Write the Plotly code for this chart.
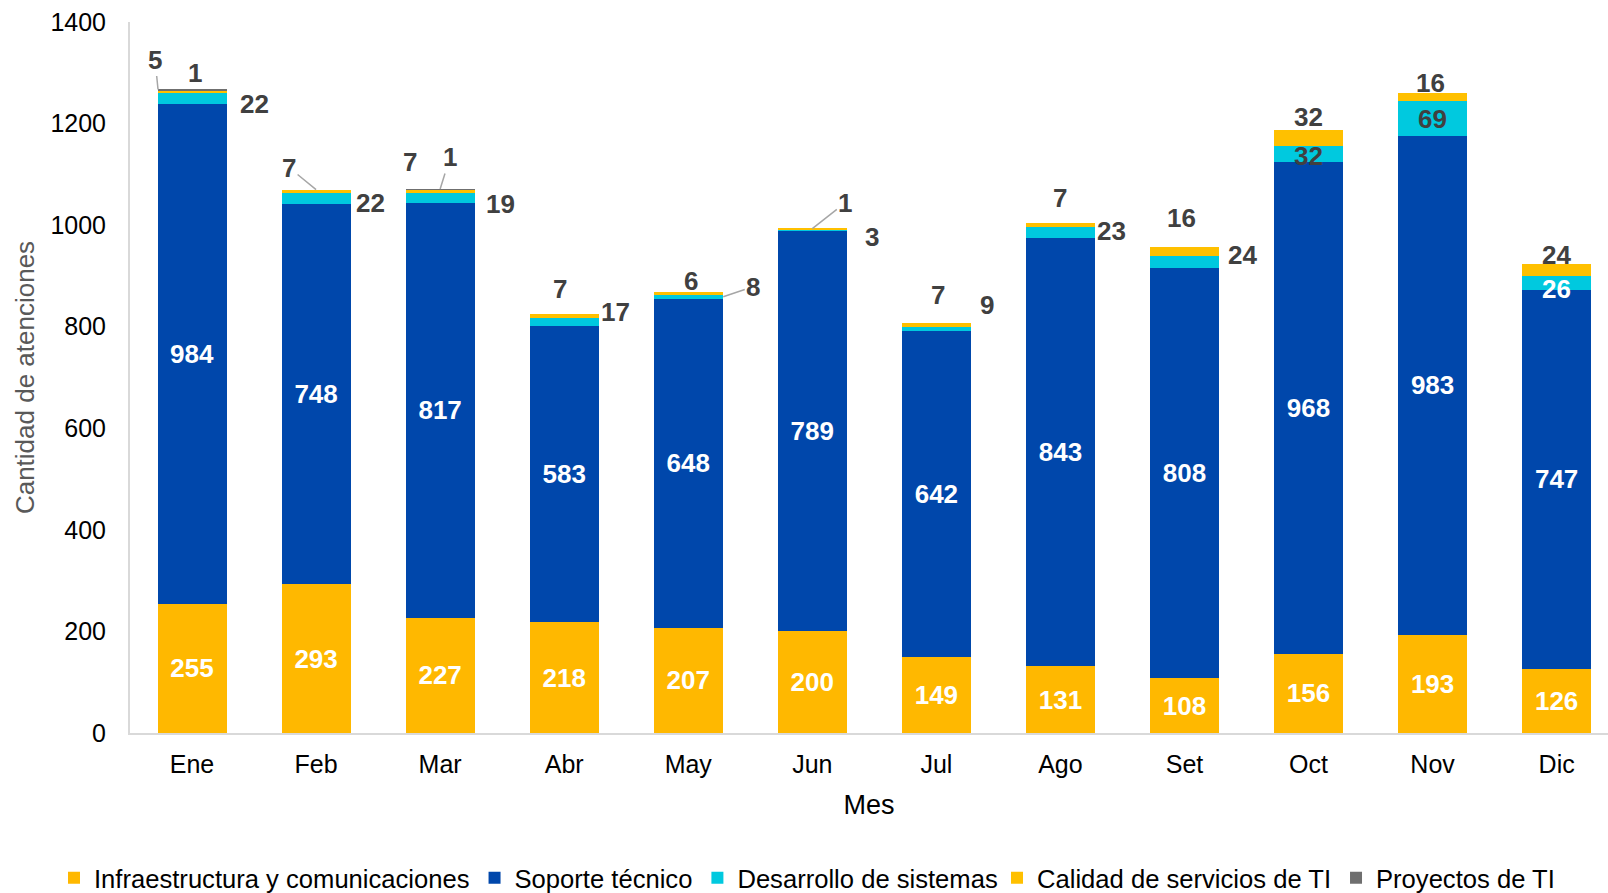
import plotly.graph_objects as go

# ---------------- data ----------------
meses = ["Ene", "Feb", "Mar", "Abr", "May", "Jun", "Jul", "Ago", "Set", "Oct", "Nov", "Dic"]
infraestructura = [255, 293, 227, 218, 207, 200, 149, 131, 108, 156, 193, 126]
soporte = [984, 748, 817, 583, 648, 789, 642, 843, 808, 968, 983, 747]
desarrollo = [22, 22, 19, 17, 8, 3, 9, 23, 24, 32, 69, 26]
calidad = [5, 7, 7, 7, 6, 1, 7, 7, 16, 32, 16, 24]
proyectos = [1, 0, 1, 0, 0, 0, 0, 0, 0, 0, 0, 0]
y_ticks = [0, 200, 400, 600, 800, 1000, 1200, 1400]

series_names = ["Infraestructura y comunicaciones", "Soporte técnico",
                "Desarrollo de sistemas", "Calidad de servicios de TI", "Proyectos de TI"]

# ---------------- style ----------------
FONT = "Liberation Sans, Arial, sans-serif"
C_INFRA = "#FFB800"
C_SOP = "#0047AB"
C_DES = "#00C9DF"
C_CAL = "#FFC000"
C_PRO = "#6F6F6F"
LABEL_DARK = "#404040"
LEADER = "#A6A6A6"
LBL_SIZE = 26
LEG_SIZE = 25.6

fig = go.Figure()

def add_bar(name, vals, color, show_text, legend="legend"):
    fig.add_trace(go.Bar(
        name=name, x=meses, y=vals, marker=dict(color=color, line=dict(width=0)),
        text=[str(v) for v in vals] if show_text else None,
        textposition="inside" if show_text else "none",
        insidetextanchor="middle",
        textfont=dict(family=FONT, size=LBL_SIZE, color="white", weight="bold"),
        constraintext="none",
        legend=legend,
    ))

add_bar(series_names[0], infraestructura, C_INFRA, True)
add_bar(series_names[1], soporte, C_SOP, True)
add_bar(series_names[2], desarrollo, C_DES, False)
add_bar(series_names[3], calidad, C_CAL, False, "legend2")
add_bar(series_names[4], proyectos, C_PRO, False, "legend2")

# ---------------- small labels (annotations) ----------------
tops = [a + b + c + d + e for a, b, c, d, e in zip(infraestructura, soporte, desarrollo, calidad, proyectos)]
des_mid = [a + b + c / 2 for a, b, c in zip(infraestructura, soporte, desarrollo)]

# label placement: (dx, dy) pixel offsets of text centre, or ("leader", tip_dx, ax, ay)
des_layout = [
    (62, 6), (54, 4), (60, 6), (51, -10), ("leader", 35, 30, -10), (60, 7),
    (51, -24), (51, -2), (58, -7), (0, 2), (0, 1), (0, 6, "white"),
]
cal_layout = [
    ("leader", -34, -3, -30), ("leader", 0, -27, -22), (-30, -27), (-4, -25), (3, -11),
    ("leader", 0, 33, -26), (2, -28), (0, -25), (-3, -29), (0, -13), (-2, -9.5), (0, -9),
]
pro_layout = {0: (3, -16.5), 2: ("leader", 0, 10, -32)}

annotations = []

def add_label(i, value, yref_val, spec):
    font = dict(family=FONT, size=LBL_SIZE, color=LABEL_DARK, weight="bold")
    if spec[0] == "leader":
        _, tip_dx, ax, ay = spec
        annotations.append(dict(
            x=meses[i], y=yref_val, xref="x", yref="y", text=str(value),
            showarrow=True, arrowhead=0, arrowwidth=1.5, arrowcolor=LEADER,
            ax=ax, ay=ay, xshift=tip_dx, standoff=0, startstandoff=0, font=font,
        ))
    else:
        dx, dy = spec[0], spec[1]
        if len(spec) > 2:
            font["color"] = spec[2]
        annotations.append(dict(
            x=meses[i], y=yref_val, xref="x", yref="y", text=str(value),
            showarrow=False, xshift=dx, yshift=-dy, xanchor="center", yanchor="middle", font=font,
        ))

for i in range(len(meses)):
    add_label(i, desarrollo[i], des_mid[i], des_layout[i])
    add_label(i, calidad[i], tops[i], cal_layout[i])
    if proyectos[i] > 0 and i in pro_layout:
        add_label(i, proyectos[i], tops[i], pro_layout[i])

legend_common = dict(orientation="h", xanchor="left", yref="container", xref="container",
                     y=1 - 878 / 893, yanchor="middle",
                     font=dict(family=FONT, size=LEG_SIZE, color="black"), traceorder="normal",
                     itemwidth=30, bgcolor="rgba(0,0,0,0)")

fig.update_layout(
    barmode="stack",
    bargap=0.444,
    width=1608, height=893,
    margin=dict(l=130, r=0, t=22, b=160),
    paper_bgcolor="white", plot_bgcolor="white",
    font=dict(family=FONT, size=25, color="black"),
    annotations=annotations,
    showlegend=True,
    legend=dict(x=54 / 1608, **legend_common),
    legend2=dict(x=997 / 1608, **legend_common),
    xaxis=dict(
        range=[-0.5, 11.414], showline=True, linecolor="#D9D9D9", linewidth=2,
        showgrid=False, ticks="", ticklabelstandoff=8,
        tickfont=dict(family=FONT, size=25, color="black"),
        title=dict(text="Mes", font=dict(family=FONT, size=27, color="black"), standoff=18),
    ),
    yaxis=dict(
        range=[0, 1400], tickvals=y_ticks, ticktext=[str(t) for t in y_ticks],
        showline=True, linecolor="#D9D9D9", linewidth=2, showgrid=False, zeroline=False,
        ticks="", ticklabelstandoff=17,
        tickfont=dict(family=FONT, size=25, color="black"),
        title=dict(text="Cantidad de atenciones", font=dict(family=FONT, size=26, color="#595959"), standoff=8),
    ),
)

fig.write_html("out.html", config={"displayModeBar": False},
               post_script="document.body.style.margin='0';")
